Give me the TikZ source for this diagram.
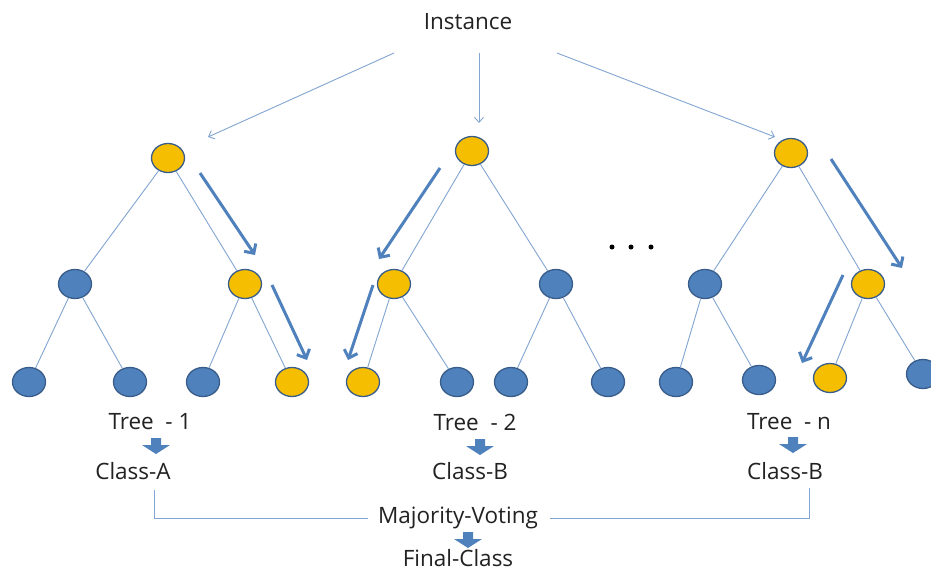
\documentclass[tikz,border=0pt]{standalone}
\usepackage{fontspec}
\setmainfont{Open Sans}
\usetikzlibrary{arrows.meta,shapes.geometric}
\definecolor{yel}{RGB}{245,190,0}
\definecolor{blu}{RGB}{79,129,189}
\definecolor{bord}{RGB}{56,93,138}
\definecolor{lineb}{RGB}{130,165,210}
\definecolor{txt}{RGB}{34,34,34}
\tikzset{
  nd/.style={ellipse, draw=bord, line width=1.3pt, minimum width=33pt, minimum height=29pt, inner sep=0pt},
  yn/.style={nd, fill=yel},
  bn/.style={nd, fill=blu},
  edgeline/.style={draw=lineb, line width=0.9pt},
  bigarr/.style={draw=blu, line width=3pt, -{Straight Barb[length=7pt,width=14pt]}},
  inarr/.style={draw=lineb, line width=0.9pt, -{Straight Barb[length=5pt,width=9pt]}},
  lbl/.style={font=\fontsize{22.5}{26}\selectfont, text=txt, inner sep=0pt},
  blockdown/.pic={\fill[blu] (-5,-8) -- (5,-8) -- (5,-1) -- (14,-1) -- (0,8) -- (-14,-1) -- (-5,-1) -- cycle;},
  dotmark/.style={circle, fill=black, inner sep=0pt, minimum size=5pt}
}
\begin{document}
\begin{tikzpicture}[x=1pt,y=-1pt]
\useasboundingbox (0,0) rectangle (931,571);
\fill[white] (0,0) rectangle (931,571);

% Instance
\node[lbl] (inst) at (468,22) {Instance};
\coordinate (i1) at (394,53); \coordinate (i1e) at (208,137);
\coordinate (i2) at (479,53); \coordinate (i2e) at (479,123);
\coordinate (i3) at (557,53); \coordinate (i3e) at (775,137);
\draw[inarr] (i1) -- (i1e);
\draw[inarr] (i2) -- (i2e);
\draw[inarr] (i3) -- (i3e);

% Tree 1
\node[yn] (r1) at (168,158) {};
\node[bn] (a1) at (75,284) {};
\node[yn] (b1) at (245,284) {};
\node[bn] (l11) at (29,382) {};
\node[bn] (l12) at (130,382) {};
\node[bn] (l13) at (203,382) {};
\node[yn] (l14) at (292,382) {};
\draw[edgeline] (r1) -- (a1); \draw[edgeline] (r1) -- (b1);
\draw[edgeline] (a1) -- (l11); \draw[edgeline] (a1) -- (l12);
\draw[edgeline] (b1) -- (l13); \draw[edgeline] (b1) -- (l14);

% Tree 2
\node[yn] (r2) at (472,151) {};
\node[yn] (a2) at (394,284) {};
\node[bn] (b2) at (556,284) {};
\node[yn] (l21) at (363,382) {};
\node[bn] (l22) at (457,382) {};
\node[bn] (l23) at (511,382) {};
\node[bn] (l24) at (608,382) {};
\draw[edgeline] (r2) -- (a2); \draw[edgeline] (r2) -- (b2);
\draw[edgeline] (a2) -- (l21); \draw[edgeline] (a2) -- (l22);
\draw[edgeline] (b2) -- (l23); \draw[edgeline] (b2) -- (l24);

% Tree n
\node[yn] (r3) at (791,153) {};
\node[bn] (a3) at (705,284) {};
\node[yn] (b3) at (868,284) {};
\node[bn] (l31) at (676,382) {};
\node[bn] (l32) at (759,380) {};
\node[yn] (l33) at (830,378) {};
\node[bn] (l34) at (923,374) {};
\draw[edgeline] (r3) -- (a3); \draw[edgeline] (r3) -- (b3);
\draw[edgeline] (a3) -- (l31); \draw[edgeline] (a3) -- (l32);
\draw[edgeline] (b3) -- (l33); \draw[edgeline] (b3) -- (l34);

% path arrows
\coordinate (p1s) at (200,173); \coordinate (p1e) at (255,255);
\coordinate (p2s) at (272,285); \coordinate (p2e) at (307,360);
\coordinate (p3s) at (440,168); \coordinate (p3e) at (379,259);
\coordinate (p4s) at (373,285); \coordinate (p4e) at (348,360);
\coordinate (p5s) at (831,159); \coordinate (p5e) at (902,268);
\coordinate (p6s) at (843,275); \coordinate (p6e) at (802,363);
\draw[bigarr] (p1s) -- (p1e);
\draw[bigarr] (p2s) -- (p2e);
\draw[bigarr] (p3s) -- (p3e);
\draw[bigarr] (p4s) -- (p4e);
\draw[bigarr] (p5s) -- (p5e);
\draw[bigarr] (p6s) -- (p6e);

% dots
\node[dotmark] (d1) at (612,247) {};
\node[dotmark] (d2) at (631,247) {};
\node[dotmark] (d3) at (651,247) {};

% labels
\node[lbl] (t1) at (150,422) {Tree\ \ - 1};
\node[lbl] (t2) at (475,422) {Tree\ \ - 2};
\node[lbl] (t3) at (789,422) {Tree\ \ - n};
\pic at (156,446) {blockdown};
\pic at (480,447) {blockdown};
\pic at (793,445) {blockdown};
\node[lbl] (c1) at (133,471) {Class-A};
\node[lbl] (c2) at (470,471) {Class-B};
\node[lbl] (c3) at (785,471) {Class-B};
\node[lbl] (mv) at (458,518) {Majority-Voting};
\pic at (468,540) {blockdown};
\node[lbl] (fc) at (458,558) {Final-Class};

% voting connectors
\coordinate (v1) at (154,490);
\coordinate (v3) at (809,488);
\draw[edgeline] (v1) |- ([xshift=-10pt]mv.west);
\draw[edgeline] (v3) |- ([xshift=12pt]mv.east);
\end{tikzpicture}
\end{document}
